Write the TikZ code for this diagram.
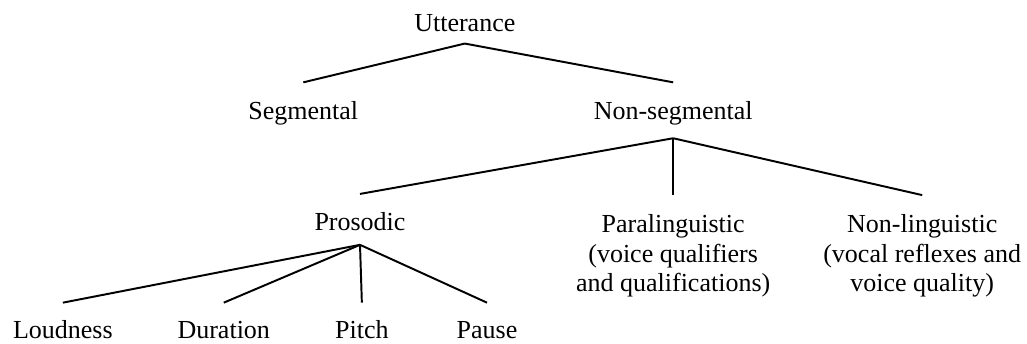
\documentclass[tikz,border=0pt]{standalone}
\usepackage{fontspec}
\setmainfont{Liberation Serif}
\tikzset{
    lbl/.style={inner sep=0pt, anchor=base, text height=16.6pt, text depth=6pt},
    lbltwo/.style={inner xsep=0pt, inner ysep=8.3pt, anchor=north, align=center}
}
\begin{document}
\begin{tikzpicture}[font=\fontsize{12}{13.8}\selectfont, line width=0.9pt]
        \useasboundingbox (0,0) rectangle (16.66,5.565);
        \node[lbl, text depth=5pt] (utt) at (7.54, 5.05) {Utterance};
        \node[lbl] (seg) at (4.92, 3.63) {Segmental};
        \node[lbl, text depth=8.3pt] (nonseg) at (10.92, 3.63) {Non-segmental};
        \node[lbl] (pros) at (5.84, 1.82) {Prosodic};
        \node[lbltwo] (para) at (10.92, 2.40) {Paralinguistic\\(voice qualifiers\\and qualifications)};
        \node[lbltwo] (nonling) at (14.96, 2.40) {Non-linguistic\\(vocal reflexes and\\voice quality)};
        \node[lbl, text height=16.2pt] (loud) at (1.02, 0.07) {Loudness};
        \node[lbl, text height=16.2pt] (dur) at (3.63, 0.07) {Duration};
        \node[lbl, text height=16.2pt] (pitch) at (5.87, 0.07) {Pitch};
        \node[lbl, text height=16.2pt] (pause) at (7.90, 0.07) {Pause};
        \draw (utt.south) -- (seg.north);
        \draw (utt.south) -- (nonseg.north);
        \draw (nonseg.south) -- (pros.north);
        \draw (nonseg.south) -- (para.north);
        \draw (nonseg.south) -- (nonling.north);
        \draw (pros.south) -- (loud.north);
        \draw (pros.south) -- (dur.north);
        \draw (pros.south) -- (pitch.north);
        \draw (pros.south) -- (pause.north);
    \end{tikzpicture}
\end{document}
